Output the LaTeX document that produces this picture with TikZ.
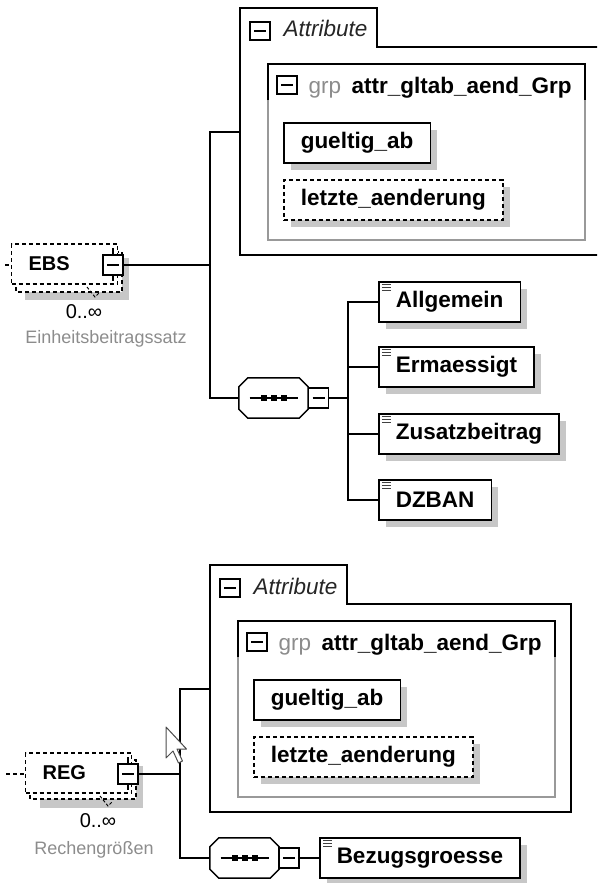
\documentclass[tikz,border=0pt]{standalone}
\usepackage{fontspec}
\setmainfont{Liberation Sans}
\usetikzlibrary{shadows}
\tikzset{
    x=1pt, y=-1pt, % one unit is one pixel of the screenshot, y runs downwards
    }

\begin{document}
\begin{tikzpicture}[
conn/.style={line width=1.5pt},
elemnode/.style={rectangle, draw=black, line width=1.5pt, fill=white, minimum height=40pt, inner xsep=17pt, anchor=west,
    font=\fontsize{22.5}{26}\selectfont\bfseries,
    drop shadow={shadow xshift=7pt, shadow yshift=-7pt, fill=black!22, opacity=1}},
optnode/.style={elemnode, dash pattern=on 4pt off 3pt},
leafnode/.style={elemnode, path picture={
    \foreach \d in {2.5,5.5,8.5}
      \draw[line width=1pt, black!75] ([xshift=3pt, yshift=-\d pt]path picture bounding box.north west) -- ++(9pt,0);}},
multinode/.style={rectangle, draw=black, line width=1.2pt, dash pattern=on 4pt off 3pt, fill=white, minimum height=40pt,
    inner xsep=17pt, text width=72pt, align=left, anchor=west, font=\fontsize{20}{24}\selectfont\bfseries},
btnnode/.style={rectangle, draw=black, line width=1.5pt, fill=white, minimum width=20pt, minimum height=20pt, inner sep=0pt,
    path picture={\draw[line width=1.2pt] ([xshift=4pt]path picture bounding box.west) -- ([xshift=-4pt]path picture bounding box.east);}},
smallbtn/.style={btnnode, line width=1.2pt, minimum height=18pt},
seqnode/.style={rectangle, minimum width=69pt, minimum height=40pt, inner sep=0pt},
graytext/.style={text=black!45, font=\fontsize{18}{20}\selectfont},
]
\useasboundingbox (0,0) rectangle (597,883);
\clip (0,0) rectangle (597,883);

% upper part: EBS
\draw[line width=1.5pt, fill=white] (240,8) -- (377,8) -- (377,47) -- (610,47) -- (610,255) -- (240,255) -- cycle;
\coordinate (attrA) at (240,132);
\node[smallbtn] (attrAbtn) at (260,31) {};
\node[anchor=base west, text=black!85, font=\fontsize{22.5}{26}\selectfont\itshape] (attrAlbl) at (280,37) {Attribute};
\draw[line width=1.2pt, black!40] (268,64) rectangle (585,240);
\draw[line width=1.5pt] (268,100) -- (268,64) -- (585,64) -- (585,100);
\node[smallbtn] (grpAbtn) at (287,85) {};
\node[anchor=base west, text=black!45, font=\fontsize{22.5}{26}\selectfont] (grpAtag) at (305,93) {grp};
\node[anchor=base west, font=\fontsize{22.5}{26}\selectfont\bfseries] (grpAname) at (348,93) {attr\_gltab\_aend\_Grp};
\node[elemnode] (gueltigA) at (283,143) {gueltig\_ab};
\node[optnode] (letzteA) at (283,200) {letzte\_aenderung};

\fill[black!22] (25,258) rectangle (129,300);
\draw[line width=1.2pt, dash pattern=on 4pt off 3pt, fill=white] (16,252) rectangle (122,292);
\node[multinode] (ebs) at (11,264) {EBS};
\draw[line width=1pt, dash pattern=on 3pt off 2pt] (87,287) -- (95,297) -- (100,292);
\draw[line width=1.2pt] (113,248) -- (113,281);
\node[btnnode] (ebsbtn) at (113,265) {};
\draw[line width=1.2pt] (5,265) -- (9,265);
\node[font=\fontsize{20}{22}\selectfont] (ebsocc) at (84,312) {0..∞};
\node[graytext] (ebslbl) at (106,339) {Einheitsbeitragssatz};

\node[seqnode] (seqA) at (273.5,398) {};
\node[leafnode] (allgemein) at (378,302) {Allgemein};
\node[leafnode] (ermaessigt) at (378,367) {Ermaessigt};
\node[leafnode] (zusatz) at (378,434) {Zusatzbeitrag};
\node[leafnode] (dzban) at (378,500) {DZBAN};

% lower part: REG
\draw[line width=1.5pt, fill=white] (210,565) -- (347,565) -- (347,604) -- (571,604) -- (571,812) -- (210,812) -- cycle;
\coordinate (attrB) at (210,689);
\node[smallbtn] (attrBbtn) at (230,588) {};
\node[anchor=base west, text=black!85, font=\fontsize{22.5}{26}\selectfont\itshape] (attrBlbl) at (250,594) {Attribute};
\draw[line width=1.2pt, black!40] (238,621) rectangle (555,797);
\draw[line width=1.5pt] (238,657) -- (238,621) -- (555,621) -- (555,657);
\node[smallbtn] (grpBbtn) at (257,642) {};
\node[anchor=base west, text=black!45, font=\fontsize{22.5}{26}\selectfont] (grpBtag) at (275,650) {grp};
\node[anchor=base west, font=\fontsize{22.5}{26}\selectfont\bfseries] (grpBname) at (318,650) {attr\_gltab\_aend\_Grp};
\node[elemnode] (gueltigB) at (253,700) {gueltig\_ab};
\node[optnode] (letzteB) at (253,757) {letzte\_aenderung};

\fill[black!22] (40,766) rectangle (143,808);
\draw[line width=1.2pt, dash pattern=on 4pt off 3pt, fill=white] (30,760) rectangle (136,799);
\node[multinode] (reg) at (25,773) {REG};
\draw[line width=1pt, dash pattern=on 3pt off 2pt] (100,796) -- (108,806) -- (113,801);
\draw[line width=1.2pt] (128,757) -- (128,790);
\node[btnnode] (regbtn) at (128,774) {};
\draw[line width=1.2pt, dash pattern=on 4pt off 3pt] (6,774) -- (25,774);
\node[font=\fontsize{20}{22}\selectfont] (regocc) at (98,821) {0..∞};
\node[graytext] (reglbl) at (94,850) {Rechengrößen};

\node[seqnode] (seqB) at (244.5,858) {};
\node[leafnode] (bezug) at (319,858) {Bezugsgroesse};

% sequence compositors
\foreach \s in {seqA,seqB} {
  \fill[black!22, xshift=7pt, yshift=-7pt] ([xshift=9pt]\s.north west) -- ([xshift=-9pt]\s.north east) -- ([yshift=-9pt]\s.north east)
    -- ([yshift=9pt]\s.south east) -- ([xshift=-9pt]\s.south east) -- ([xshift=9pt]\s.south west) -- ([yshift=9pt]\s.south west)
    -- ([yshift=-9pt]\s.north west) -- cycle;
  \draw[line width=1.5pt, fill=white] ([xshift=9pt]\s.north west) -- ([xshift=-9pt]\s.north east) -- ([yshift=-9pt]\s.north east)
    -- ([yshift=9pt]\s.south east) -- ([xshift=-9pt]\s.south east) -- ([xshift=9pt]\s.south west) -- ([yshift=9pt]\s.south west)
    -- ([yshift=-9pt]\s.north west) -- cycle;
  \draw[line width=1.2pt] ([xshift=-24pt]\s.center) -- ([xshift=24pt]\s.center);
  \foreach \d in {-10,0,10}
    \fill ([xshift=\d pt]\s.center) +(-3,-3) rectangle +(3,3);
}
\node[btnnode] (seqAbtn) at (318.5,398) {};
\node[btnnode] (seqBbtn) at (289,858) {};

% connectors
\coordinate (forkA) at (210,265);
\coordinate (forkAseq) at (348,398);
\draw[conn] (ebsbtn.east) -- (forkA);
\draw[conn] (forkA) |- (attrA);
\draw[conn] (forkA) |- (seqA.west);
\draw[conn] (seqAbtn.east) -- (forkAseq);
\foreach \n in {allgemein,ermaessigt,zusatz,dzban}
  \draw[conn] (forkAseq) |- (\n.west);

\coordinate (forkB) at (180,774);
\draw[conn] (regbtn.east) -- (forkB);
\draw[conn] (forkB) |- (attrB);
\draw[conn] (forkB) |- (seqB.west);
\draw[conn] (seqBbtn.east) -- (bezug.west);

% mouse pointer
\draw[fill=white, draw=black!70, line width=1pt, line join=round] (166,727) -- ++(0,31) -- ++(7,-7) -- ++(5.5,12) -- ++(4,-2) -- ++(-5.5,-12) -- ++(9.5,0) -- cycle;
\end{tikzpicture}
\end{document}
